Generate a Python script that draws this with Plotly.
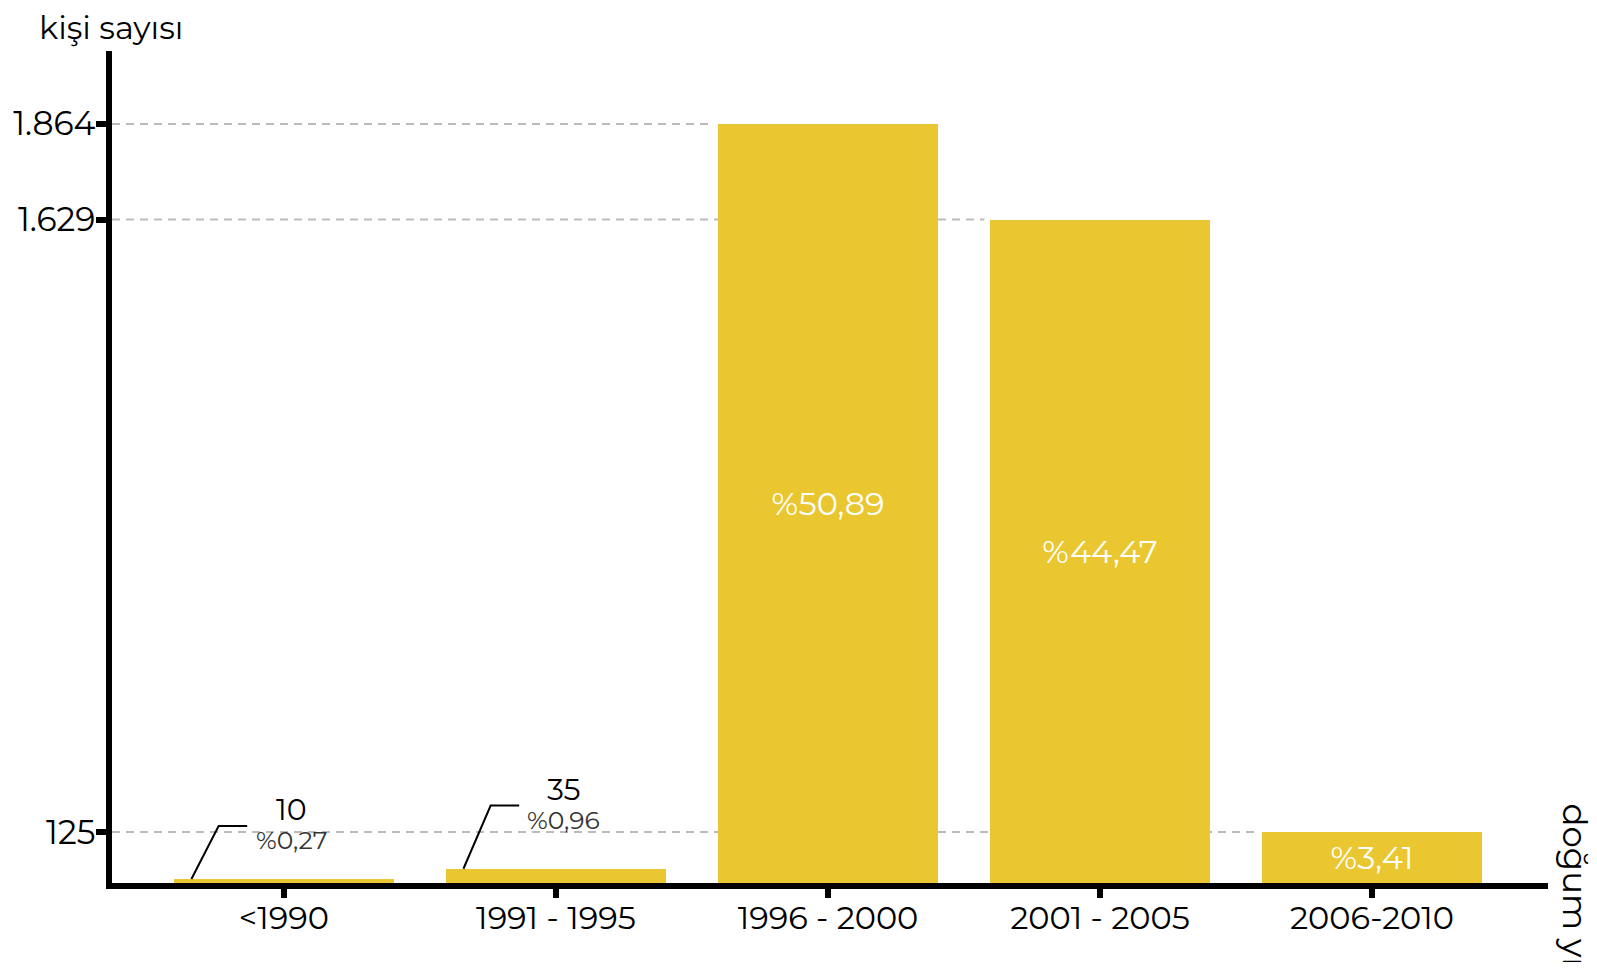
import plotly.graph_objects as go

categories = ["<1990", "1991 - 1995", "1996 - 2000", "2001 - 2005", "2006-2010"]
counts = [10, 35, 1864, 1629, 125]
percents = ["%0,27", "%0,96", "%50,89", "%44,47", "%3,41"]
tick_values = [125, 1629, 1864]
tick_labels = ["125", "1.629", "1.864"]
small_bars = [0, 1]  # bars labelled outside with leader lines

FONT = "Montserrat, Open Sans, sans-serif"
BAR = "#EAC731"
BAR_W = 0.81
X_RANGE = [-0.632, 4.647]

inside_text = [p if i not in small_bars else "" for i, p in enumerate(percents)]

fig = go.Figure()
fig.add_trace(go.Bar(
    x=list(range(len(categories))), y=counts,
    marker=dict(color=BAR, line=dict(width=0)),
    width=BAR_W,
    text=inside_text, textposition="inside", insidetextanchor="middle",
    textfont=dict(family=FONT, size=32, color="white"),
    hoverinfo="skip",
))

# dashed guide lines from the y axis to the bar carrying that value
for tv in tick_values:
    i = counts.index(tv)
    fig.add_shape(type="line", xref="x", yref="y", layer="below",
                  x0=X_RANGE[0], x1=i - BAR_W / 2 - 0.02, y0=tv, y1=tv,
                  line=dict(color="#BBBBBB", width=2, dash="8px,6px"))

for i in small_bars:
    v = counts[i]
    elbow = 120 + 2 * v
    fig.add_shape(type="path",
                  path=f"M {i-0.34},{v} L {i-0.24},{elbow} L {i-0.135},{elbow}",
                  xref="x", yref="y", line=dict(color="black", width=2))
    fig.add_annotation(x=i + 0.028, y=elbow, xref="x", yref="y",
                       xanchor="center", yanchor="middle", showarrow=False, yshift=16,
                       text=str(v), font=dict(family=FONT, size=30, color="black"))
    fig.add_annotation(x=i + 0.028, y=elbow, xref="x", yref="y",
                       xanchor="center", yanchor="middle", showarrow=False, yshift=-14,
                       text=percents[i], font=dict(family=FONT, size=25, color="#333333"))

fig.add_annotation(x=0, y=1.0, xref="paper", yref="paper", xshift=-75, yshift=24,
                   xanchor="left", yanchor="middle", showarrow=False,
                   text="kişi sayısı", font=dict(family=FONT, size=32, color="black"))
fig.add_annotation(x=1.0, y=0.0, xref="paper", yref="paper", xshift=4, yshift=82,
                   xanchor="left", yanchor="top", showarrow=False, textangle=90,
                   text="doğum yılı", font=dict(family=FONT, size=34, color="black"))

fig.update_layout(
    width=1581, height=954,
    margin=dict(l=104, r=41, t=43, b=79, autoexpand=False),
    plot_bgcolor="white", paper_bgcolor="white",
    showlegend=False, bargap=0,
    xaxis=dict(range=X_RANGE, tickvals=list(range(len(categories))), ticktext=categories,
               showline=True, linecolor="black", linewidth=6, automargin=False,
               ticks="outside", ticklen=9, tickwidth=6, tickcolor="black",
               ticklabelstandoff=-7,
               showgrid=False, zeroline=False,
               tickfont=dict(family=FONT, size=32, color="black")),
    yaxis=dict(range=[0, 2043], tickvals=tick_values, ticktext=tick_labels,
               showline=True, linecolor="black", linewidth=6, automargin=False,
               ticks="outside", ticklen=10, tickwidth=6, tickcolor="black",
               ticklabelstandoff=-6,
               showgrid=False, zeroline=False,
               tickfont=dict(family=FONT, size=33, color="black")),
)

fig.write_html("out.html")
